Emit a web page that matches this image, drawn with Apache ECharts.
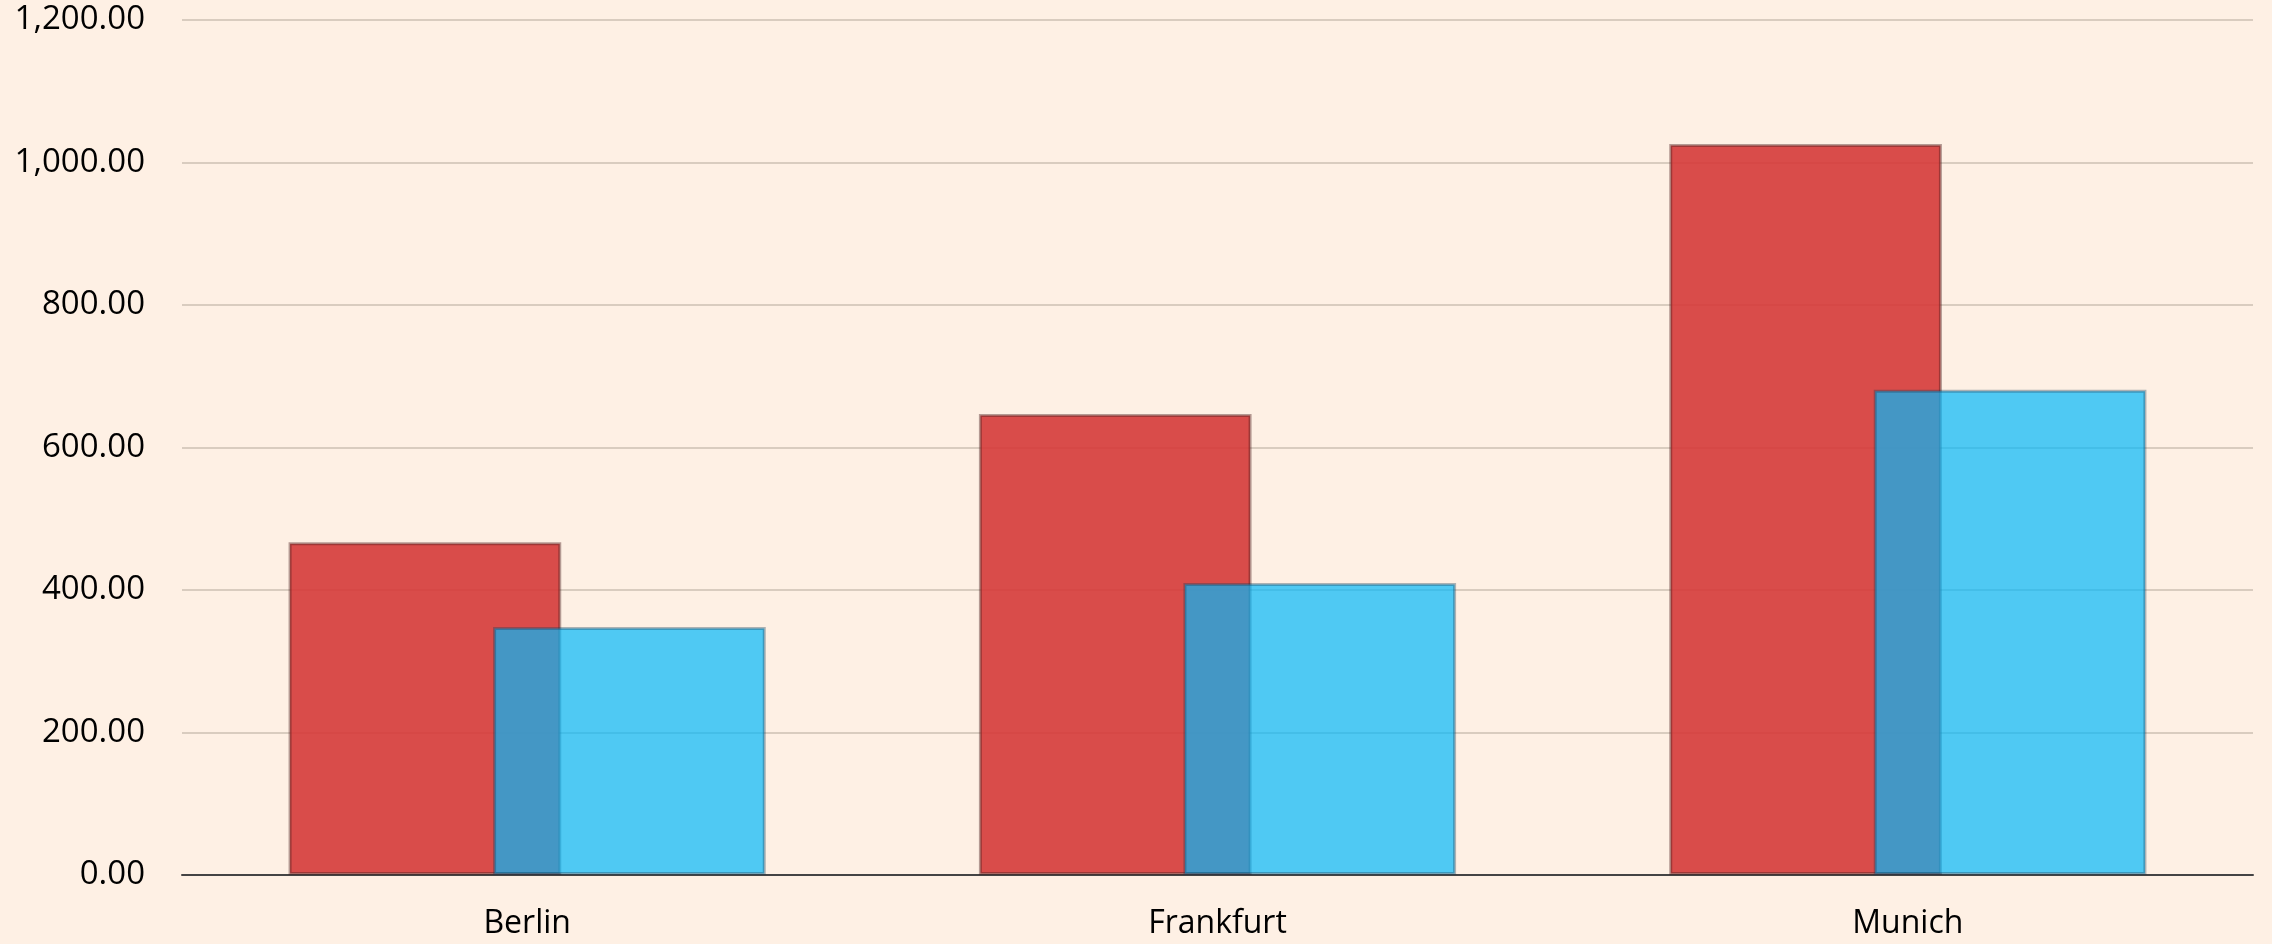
<!DOCTYPE html>
<html>
<head>
<meta charset="utf-8">
<title>City comparison</title>
<script src="https://cdn.jsdelivr.net/npm/echarts@6/dist/echarts.min.js"></script>
<style>
  html, body { margin: 0; padding: 0; background: #FEF0E4; }
  #chart { width: 2272px; height: 944px; }
</style>
</head>
<body>
<div id="chart"></div>
<script>
// Cities along the category axis
const cities = ['Berlin', 'Frankfurt', 'Munich'];

// Values per city for the two series
const seriesA = [467, 647, 1026];
const seriesB = [348, 410, 681];

// Value axis range and step
const yMin = 0;
const yMax = 1200;
const yStep = 200;

const fmt = v => v.toLocaleString('en-US', { minimumFractionDigits: 2, maximumFractionDigits: 2 });

const chart = echarts.init(document.getElementById('chart'), null, { renderer: 'canvas' });

chart.setOption({
  backgroundColor: '#FEF0E4',
  animation: false,
  textStyle: { fontFamily: '"Open Sans", sans-serif' },
  grid: { left: 182, right: 19, top: 20, bottom: 69, containLabel: false },
  xAxis: {
    type: 'category',
    data: cities,
    axisTick: { show: false },
    axisLine: { show: true, lineStyle: { color: '#444', width: 2 } },
    axisLabel: { color: '#000', fontSize: 32, margin: 33, fontFamily: '"Open Sans", sans-serif' },
    splitLine: { show: false }
  },
  yAxis: {
    type: 'value',
    min: yMin,
    max: yMax,
    interval: yStep,
    axisLine: { show: false },
    axisTick: { show: false },
    axisLabel: { color: '#000', fontSize: 33, margin: 37, formatter: fmt, fontFamily: '"Open Sans", sans-serif' },
    splitLine: { show: true, lineStyle: { color: '#CDC1B3', width: 1.5 } }
  },
  series: [
    {
      name: 'A',
      type: 'bar',
      data: seriesA,
      barWidth: '39.5%',
      barGap: '-25%',
      z: 3,
      itemStyle: {
        color: 'rgba(213,58,56,0.9)',
        borderColor: 'rgba(70,25,25,0.4)',
        borderWidth: 3
      }
    },
    {
      name: 'B',
      type: 'bar',
      data: seriesB,
      barWidth: '39.5%',
      z: 4,
      itemStyle: {
        color: 'rgba(4,184,249,0.7)',
        borderColor: 'rgba(20,60,90,0.35)',
        borderWidth: 3
      }
    }
  ]
});
</script>
</body>
</html>
